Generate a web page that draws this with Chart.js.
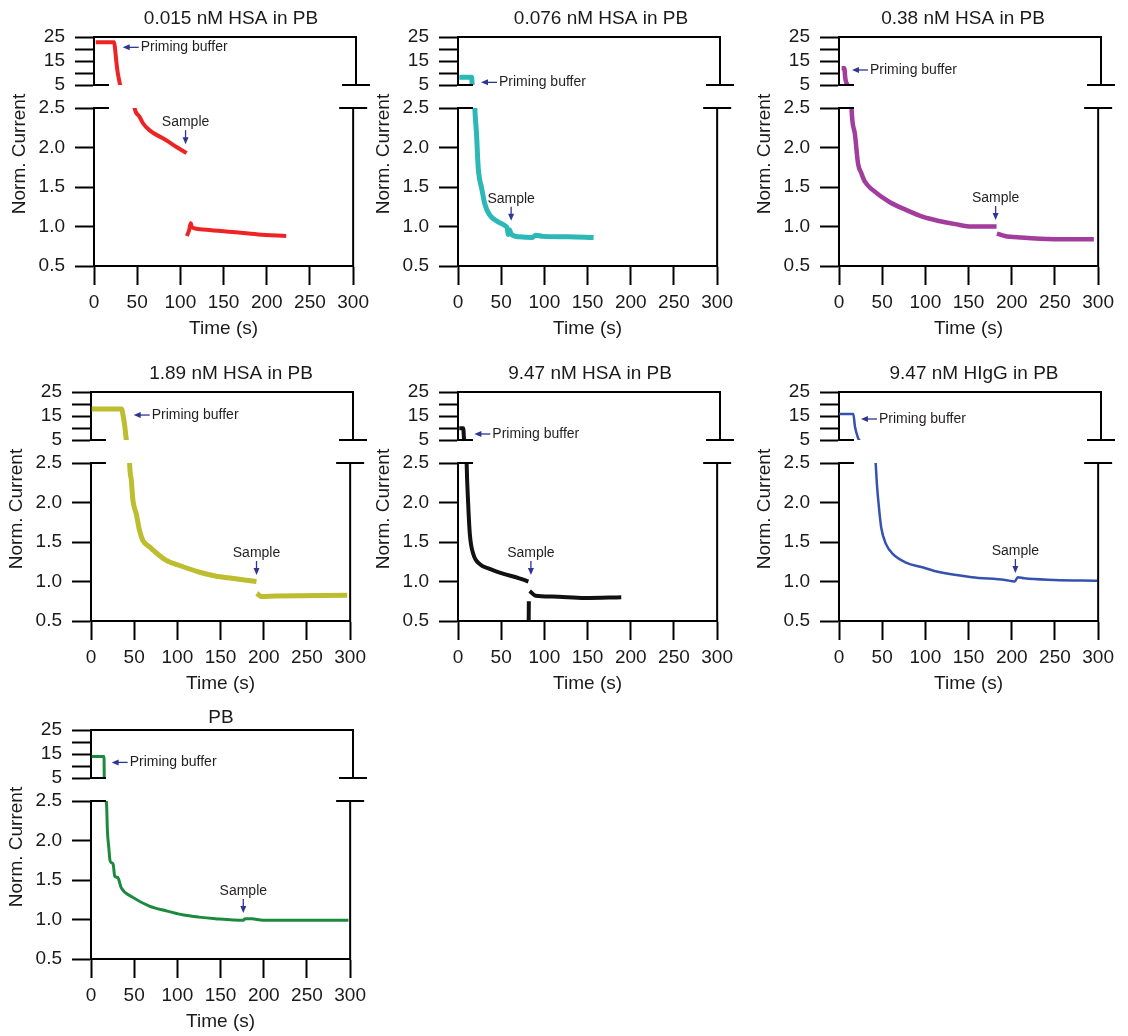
<!DOCTYPE html>
<html>
<head>
<meta charset="utf-8">
<script src="https://cdn.jsdelivr.net/npm/chart.js@4.4.1/dist/chart.umd.min.js"></script>
<style>
    body { margin: 0; background: #fff; }
    #fig { position: relative; width: 1128px; height: 1036px; overflow: hidden; }
    .panel { position: absolute; width: 375px; height: 345px; }
    .panel canvas { position: absolute; left: 0; top: 0; }
</style>
</head>
<body>
<div id="fig"></div>
<script>
// ---- data (time in s, normalised current) ----
const time0015 = [2, 23, 24, 25.5, 27, 28.5, 30, 38, 47, 52.7, 56.5, 64.1, 83.2, 95, 107.2, 107.3, 107.5, 110, 112, 113, 115.6, 130, 160, 190, 222.5];
const curr0015 = [22.8, 22.8, 20.5, 15, 10.5, 7.5, 5, 3.3, 2.5, 2.39, 2.31, 2.22, 2.095, 2.01, 1.93, null, 0.88, 0.95, 1.04, 1.0, 0.98, 0.96, 0.93, 0.9, 0.88];

const time0076 = [1.5, 15.7, 16.2, 19.5, 21.4, 23.3, 25, 27.1, 30.9, 36.6, 46.2, 55.7, 57, 58, 59.5, 61, 63, 71, 86, 90, 98, 128, 157];
const curr0076 = [8.2, 8.2, 5, 2.5, 2.18, 1.76, 1.6, 1.5, 1.29, 1.146, 1.06, 1.0, 0.98, 0.9, 0.96, 0.92, 0.89, 0.87, 0.86, 0.89, 0.875, 0.87, 0.86];

const time038 = [3, 6.1, 7.2, 9.5, 14.5, 18.3, 22, 26, 29.8, 39.3, 58.4, 77.5, 96.6, 115.6, 134.7, 153.8, 182.4, 182.6, 182.8, 192, 211, 249, 295];
const curr038 = [12, 12, 7.8, 5, 2.5, 2.18, 1.8, 1.67, 1.57, 1.46, 1.31, 1.21, 1.124, 1.07, 1.03, 1.0, 1.0, null, 0.91, 0.88, 0.86, 0.84, 0.84];

const time189 = [0.8, 35, 37, 38.5, 40, 40.5, 44.7, 46.6, 48.5, 52.3, 56.1, 60, 67.6, 86.7, 105.7, 124.8, 143.9, 163, 191.6, 191.8, 192, 197.3, 214, 296.6];
const curr189 = [17.9, 17.9, 14.7, 11.25, 6.4, 5, 2.5, 2.29, 2.03, 1.86, 1.65, 1.52, 1.44, 1.27, 1.19, 1.12, 1.07, 1.04, 1.0, null, 0.85, 0.81, 0.815, 0.825];

const time947 = [1.5, 6, 7, 10, 11.8, 13.7, 17.6, 25.2, 36.6, 51.9, 71, 81.5, 81.6, 81.8, 82, 82.5, 83, 90, 109, 147, 189];
const curr947 = [9.9, 9.9, 5, 2.5, 1.98, 1.6, 1.35, 1.22, 1.16, 1.10, 1.04, 1.0, null, 0.45, 0.75, null, 0.88, 0.82, 0.81, 0.79, 0.80];

const timeIgG = [0.3, 16.4, 18.3, 22, 23, 42.4, 43.9, 46.2, 48.9, 54.6, 62.2, 77.5, 96.6, 115.6, 153.8, 192, 203.5, 207, 214.5, 249, 298.8];
const currIgG = [15.8, 15.8, 10.5, 5.7, 5, 2.5, 2.23, 1.94, 1.68, 1.47, 1.35, 1.24, 1.18, 1.12, 1.055, 1.02, 1.0, 1.055, 1.04, 1.02, 1.01];

const timePB = [0.8, 14.9, 15.2, 18, 19, 20.6, 21.8, 23.5, 25.6, 27.5, 31, 35.1, 48.5, 67.6, 86.7, 105.7, 124.8, 143.9, 176.3, 178.5, 186, 199, 298];
const currPB = [14, 14, 5, 2.46, 2.12, 1.91, 1.76, 1.72, 1.70, 1.55, 1.53, 1.40, 1.28, 1.17, 1.11, 1.06, 1.03, 1.01, 0.99, 1.01, 1.01, 0.99, 0.99];

const panelTitles = ['0.015 nM HSA in PB', '0.076 nM HSA in PB', '0.38 nM HSA in PB',
    '1.89 nM HSA in PB', '9.47 nM HSA in PB', '9.47 nM HIgG in PB', 'PB'];
const panelTimes = [time0015, time0076, time038, time189, time947, timeIgG, timePB];
const panelCurrents = [curr0015, curr0076, curr038, curr189, curr947, currIgG, currPB];

// where the annotation arrows point (time, current)
const primingTips = [[31.7, 20.7], [25.2, 6.1], [13.7, 11.25], [47.7, 15.4], [17.6, 7.5], [24, 13.75], [22.5, 11.5]];
const sampleTips = [[106, 2.03], [61.5, 1.06], [181.3, 1.07], [191.6, 1.07], [84.4, 1.07], [204.2, 1.095], [176.3, 1.07]];

const xTicks = [0, 50, 100, 150, 200, 250, 300];
const topTicks = [5, 10, 15, 20, 25];
const bottomTicks = [0.5, 1.0, 1.5, 2.0, 2.5];

// ---- styling / layout ----
const lineColors = ['#ee2424', '#2cb8b6', '#a23d9d', '#bcbe2f', '#111111', '#3652b0', '#1c8a3e'];
const lineWidths = [4, 5, 4.5, 5, 4, 2.5, 3];
const panelPos = [[0, 0], [364, 0], [745, 0], [-3, 355], [364, 355], [745, 355], [-3, 693]];
const titleX = [231, 237, 218, 234, 226, 229, 224];
const titleY = [19, 19, 19, 18.5, 18.5, 18.5, 24.5];

const W = 375, H = 345;
const PLOT_L = 94, PLOT_R = 356;
const TOP_T = 37, TOP_B = 85, BOT_T = 108, BOT_B = 266;
const FONT = '"Liberation Sans", Arial, Helvetica, sans-serif';
const INK = '#1a1a1a';
const ARROW = '#2e3592';

function arrow(ctx, x1, y1, x2, y2) {
    const ang = Math.atan2(y2 - y1, x2 - x1);
    ctx.strokeStyle = ARROW;
    ctx.fillStyle = ARROW;
    ctx.lineWidth = 1.3;
    ctx.beginPath();
    ctx.moveTo(x1, y1);
    ctx.lineTo(x2 - 4 * Math.cos(ang), y2 - 4 * Math.sin(ang));
    ctx.stroke();
    ctx.beginPath();
    ctx.moveTo(x2, y2);
    ctx.lineTo(x2 - 7 * Math.cos(ang) + 3 * Math.sin(ang), y2 - 7 * Math.sin(ang) - 3 * Math.cos(ang));
    ctx.lineTo(x2 - 7 * Math.cos(ang) - 3 * Math.sin(ang), y2 - 7 * Math.sin(ang) + 3 * Math.cos(ang));
    ctx.closePath();
    ctx.fill();
}

// frame, axis breaks, titles and annotations
const panelDeco = {
    id: 'panelDeco',
    afterDraw(chart, args, opts) {
        const ctx = chart.ctx;
        const a = chart.chartArea;
        const xs = chart.scales.x, ys = chart.scales.y;
        ctx.save();
        ctx.strokeStyle = '#000';
        ctx.lineWidth = 2;
        ctx.lineCap = 'square';
        ctx.beginPath();
        if (opts.part === 'top') {
            ctx.moveTo(a.left, a.top); ctx.lineTo(a.right, a.top);
            ctx.moveTo(a.right, a.top); ctx.lineTo(a.right, a.bottom);
            ctx.moveTo(a.left, a.bottom); ctx.lineTo(a.left + 14, a.bottom);
            ctx.moveTo(a.right - 13, a.bottom); ctx.lineTo(a.right + 13, a.bottom);
        } else {
            ctx.moveTo(a.right, a.top); ctx.lineTo(a.right, a.bottom);
            ctx.moveTo(a.left, a.top); ctx.lineTo(a.left + 14, a.top);
            ctx.moveTo(a.right - 13, a.top); ctx.lineTo(a.right + 13, a.top);
        }
        ctx.stroke();
        ctx.lineCap = 'butt';

        if (opts.part === 'top') {
            ctx.fillStyle = INK;
            ctx.font = '19px ' + FONT;
            ctx.textAlign = 'center';
            ctx.textBaseline = 'middle';
            ctx.fillText(opts.title, opts.titleX, opts.titleY);

            const px = xs.getPixelForValue(opts.tip[0]);
            const py = ys.getPixelForValue(opts.tip[1]);
            arrow(ctx, px + 17, py, px + 1, py);
            ctx.fillStyle = '#231f20';
            ctx.font = '14px ' + FONT;
            ctx.textAlign = 'left';
            ctx.fillText('Priming buffer', px + 19, py);
        } else {
            const px = xs.getPixelForValue(opts.tip[0]);
            const py = ys.getPixelForValue(opts.tip[1]);
            arrow(ctx, px, py - 15, px, py - 1);
            ctx.fillStyle = '#231f20';
            ctx.font = '14px ' + FONT;
            ctx.textAlign = 'center';
            ctx.textBaseline = 'middle';
            ctx.fillText('Sample', px, py - 23);

            ctx.fillStyle = INK;
            ctx.font = '19px ' + FONT;
            ctx.fillText('Time (s)', (a.left + a.right) / 2, 329);
            ctx.translate(20, 154);
            ctx.rotate(-Math.PI / 2);
            ctx.fillText('Norm. Current', 0, 0);
        }
        ctx.restore();
    }
};

function yAxis(min, max, ticks, labelFn) {
    return {
        type: 'linear', min: min, max: max,
        afterFit: (s) => { s.width = PLOT_L; },
        afterBuildTicks: (s) => { s.ticks = ticks.map(v => ({ value: v })); },
        ticks: { callback: labelFn, color: INK, padding: 10, autoSkip: false,
                 font: { family: FONT, size: 19 } },
        grid: { drawOnChartArea: false, tickLength: 19, tickWidth: 2, tickColor: '#000' },
        border: { width: 2, color: '#000' }
    };
}

function makePanel(i) {
    const div = document.createElement('div');
    div.className = 'panel';
    div.style.left = panelPos[i][0] + 'px';
    div.style.top = panelPos[i][1] + 'px';
    document.getElementById('fig').appendChild(div);

    const pts = panelTimes[i].map((t, k) => ({ x: t, y: panelCurrents[i][k] }));
    const dataset = () => ({
        data: pts,
        borderColor: lineColors[i],
        borderWidth: lineWidths[i],
        pointRadius: 0,
        cubicInterpolationMode: 'monotone',
        spanGaps: false,
        clip: { left: 0, top: 0, right: 0, bottom: 0 }
    });

    ['top', 'bottom'].forEach(part => {
        const cv = document.createElement('canvas');
        cv.width = W; cv.height = H;
        div.appendChild(cv);
        const isTop = part === 'top';
        new Chart(cv.getContext('2d'), {
            type: 'line',
            data: { datasets: [dataset()] },
            plugins: [panelDeco],
            options: {
                responsive: false,
                animation: false,
                events: [],
                layout: { padding: isTop
                    ? { top: TOP_T, bottom: H - TOP_B, left: 0, right: W - PLOT_R }
                    : { top: BOT_T, bottom: 0, left: 0, right: W - PLOT_R } },
                plugins: {
                    legend: { display: false },
                    tooltip: { enabled: false },
                    panelDeco: {
                        part: part,
                        title: panelTitles[i],
                        titleX: titleX[i],
                        titleY: titleY[i],
                        tip: isTop ? primingTips[i] : sampleTips[i]
                    }
                },
                scales: {
                    x: isTop ? { type: 'linear', min: 0, max: 300, display: false } : {
                        type: 'linear', min: 0, max: 300,
                        afterFit: (s) => { s.height = H - BOT_B; },
                        afterBuildTicks: (s) => { s.ticks = xTicks.map(v => ({ value: v })); },
                        ticks: { color: INK, padding: 6, maxRotation: 0, autoSkip: false,
                                 font: { family: FONT, size: 19 } },
                        grid: { drawOnChartArea: false, tickLength: 19, tickWidth: 2, tickColor: '#000' },
                        border: { width: 2, color: '#000' }
                    },
                    y: isTop
                        ? yAxis(5, 25, topTicks, v => (v % 10 === 5 ? String(v) : ''))
                        : yAxis(0.5, 2.5, bottomTicks, v => v.toFixed(1))
                }
            }
        });
    });
}

for (let i = 0; i < panelTitles.length; i++) makePanel(i);
</script>
</body>
</html>
